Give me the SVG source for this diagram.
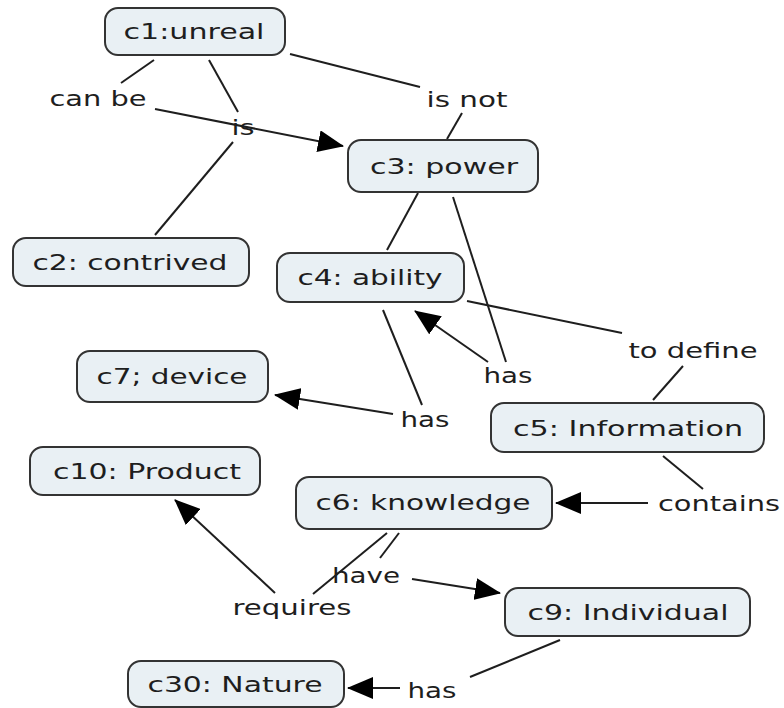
<svg xmlns="http://www.w3.org/2000/svg" width="784" height="708" viewBox="0 0 784 708">
  <style>
    .node rect { fill: #e9f0f4; stroke: #333; stroke-width: 2; }
    text { font-family: "DejaVu Sans", Verdana, sans-serif; font-size: 22px; fill: #1e1e1e; text-anchor: middle; }
    .links line { stroke: #1e1e1e; stroke-width: 2; fill: none; }
    .links line.arrow { marker-end: url(#head); }
  </style>
  <defs>
    <marker id="head" markerUnits="userSpaceOnUse" markerWidth="26" markerHeight="22" viewBox="0 0 26 22" refX="25" refY="11" orient="auto">
      <path d="M0,0 L26,11 L0,22 Z" fill="#000"/>
    </marker>
  </defs>
  <rect width="784" height="708" fill="#fff"/>

  <g class="links">
    <line x1="154" y1="60" x2="121" y2="83"/>
    <line class="arrow" x1="155" y1="109" x2="343" y2="146"/>
    <line x1="209" y1="60" x2="238" y2="112"/>
    <line x1="233" y1="142" x2="155" y2="235"/>
    <line x1="290" y1="54" x2="420" y2="87"/>
    <line x1="462" y1="113" x2="447" y2="139"/>
    <line x1="418" y1="193" x2="387" y2="250"/>
    <line x1="453" y1="197" x2="506" y2="362"/>
    <line class="arrow" x1="488" y1="362" x2="415" y2="311"/>
    <line x1="383" y1="310" x2="422" y2="405"/>
    <line class="arrow" x1="393" y1="414" x2="275" y2="395"/>
    <line x1="467" y1="301" x2="622" y2="333"/>
    <line x1="683" y1="366" x2="653" y2="400"/>
    <line x1="663" y1="456" x2="703" y2="489"/>
    <line class="arrow" x1="648" y1="503" x2="556" y2="503"/>
    <line x1="387" y1="533" x2="313" y2="594"/>
    <line x1="399" y1="533" x2="380" y2="558"/>
    <line class="arrow" x1="412" y1="579" x2="500" y2="593"/>
    <line class="arrow" x1="275" y1="593" x2="175" y2="500"/>
    <line x1="560" y1="640" x2="470" y2="677"/>
    <line class="arrow" x1="400" y1="688" x2="348" y2="688"/>
  </g>

  <g class="labels">
    <text x="98" y="106" textLength="97" lengthAdjust="spacingAndGlyphs">can be</text>
    <text x="243" y="135" textLength="23" lengthAdjust="spacingAndGlyphs">is</text>
    <text x="467" y="107" textLength="81" lengthAdjust="spacingAndGlyphs">is not</text>
    <text x="508" y="383" textLength="49" lengthAdjust="spacingAndGlyphs">has</text>
    <text x="693" y="358" textLength="129" lengthAdjust="spacingAndGlyphs">to define</text>
    <text x="425" y="427" textLength="49" lengthAdjust="spacingAndGlyphs">has</text>
    <text x="719" y="511" textLength="122" lengthAdjust="spacingAndGlyphs">contains</text>
    <text x="366" y="583" textLength="68" lengthAdjust="spacingAndGlyphs">have</text>
    <text x="292" y="615" textLength="119" lengthAdjust="spacingAndGlyphs">requires</text>
    <text x="432" y="698" textLength="49" lengthAdjust="spacingAndGlyphs">has</text>
  </g>

  <g id="c1" class="node">
    <rect x="105" y="8" width="180" height="47" rx="13"/>
    <text x="194" y="39" textLength="141" lengthAdjust="spacingAndGlyphs">c1:unreal</text>
  </g>
  <g id="c3" class="node">
    <rect x="348" y="140" width="190" height="52" rx="13"/>
    <text x="444" y="174" textLength="148" lengthAdjust="spacingAndGlyphs">c3: power</text>
  </g>
  <g id="c2" class="node">
    <rect x="13" y="238" width="236" height="48" rx="13"/>
    <text x="130" y="270" textLength="195" lengthAdjust="spacingAndGlyphs">c2: contrived</text>
  </g>
  <g id="c4" class="node">
    <rect x="277" y="253" width="187" height="49" rx="13"/>
    <text x="370" y="285" textLength="145" lengthAdjust="spacingAndGlyphs">c4: ability</text>
  </g>
  <g id="c7" class="node">
    <rect x="77" y="351" width="191" height="51" rx="13"/>
    <text x="172" y="384" textLength="151" lengthAdjust="spacingAndGlyphs">c7; device</text>
  </g>
  <g id="c5" class="node">
    <rect x="491" y="403" width="273" height="49" rx="13"/>
    <text x="628" y="436" textLength="230" lengthAdjust="spacingAndGlyphs">c5: Information</text>
  </g>
  <g id="c10" class="node">
    <rect x="30" y="447" width="230" height="48" rx="13"/>
    <text x="147" y="479" textLength="188" lengthAdjust="spacingAndGlyphs">c10: Product</text>
  </g>
  <g id="c6" class="node">
    <rect x="296" y="477" width="256" height="52" rx="13"/>
    <text x="423" y="510" textLength="215" lengthAdjust="spacingAndGlyphs">c6: knowledge</text>
  </g>
  <g id="c9" class="node">
    <rect x="505" y="588" width="245" height="48" rx="13"/>
    <text x="628" y="620" textLength="201" lengthAdjust="spacingAndGlyphs">c9: Individual</text>
  </g>
  <g id="c30" class="node">
    <rect x="128" y="661" width="216" height="46" rx="13"/>
    <text x="235" y="692" textLength="175" lengthAdjust="spacingAndGlyphs">c30: Nature</text>
  </g>
</svg>
